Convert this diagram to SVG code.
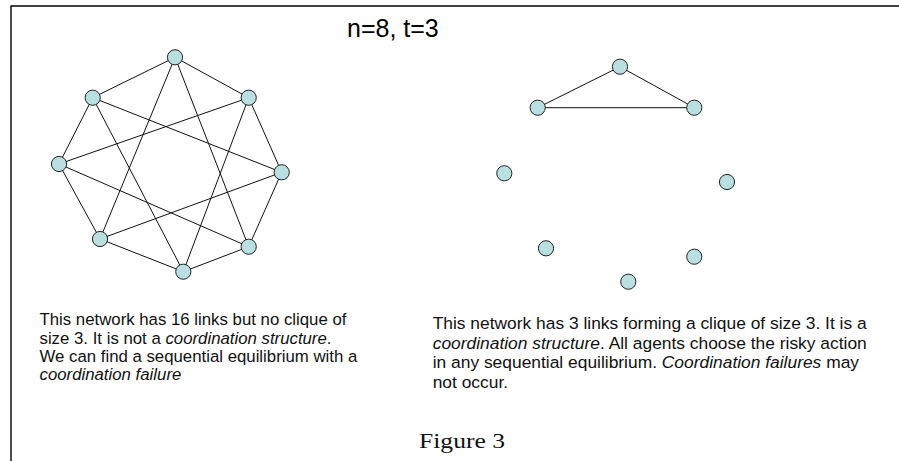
<svg xmlns="http://www.w3.org/2000/svg" width="899" height="461" viewBox="0 0 899 461">
  <style>
    .frame { stroke: #000; stroke-width: 1.4; fill: none; }
    .edge { stroke: #111; stroke-width: 1; fill: none; }
    .node { fill: #b9dfe0; stroke: #222; stroke-width: 1; }
    .title { font-family: "Liberation Sans", Arial, sans-serif; font-size: 25px; fill: #000; }
    .body { font-family: "Liberation Sans", Arial, sans-serif; fill: #111; }
    .cap { font-family: "Liberation Serif", "DejaVu Serif", serif; font-size: 22px; fill: #111; }
  </style>
  <defs>
    <circle id="dot" r="7.6"/>
  </defs>

  <rect x="0" y="0" width="899" height="461" fill="#fff"/>

  <!-- frame -->
  <path class="frame" d="M11,461 V6 H899"/>

  <text class="title" x="347" y="37">n=8, t=3</text>

  <!-- connectors -->
  <g id="connectors">
    <!-- left network: outer cycle -->
    <line class="edge" x1="175" y1="57.3" x2="92.7" y2="97.7"/>
    <line class="edge" x1="175" y1="57.3" x2="248.7" y2="97.7"/>
    <line class="edge" x1="92.7" y1="97.7" x2="59" y2="164"/>
    <line class="edge" x1="248.7" y1="97.7" x2="281.7" y2="172.3"/>
    <line class="edge" x1="59" y1="164" x2="100" y2="239"/>
    <line class="edge" x1="281.7" y1="172.3" x2="248.7" y2="246.7"/>
    <line class="edge" x1="100" y1="239" x2="183.3" y2="271.7"/>
    <line class="edge" x1="248.7" y1="246.7" x2="183.3" y2="271.7"/>
    <!-- left network: chords -->
    <line class="edge" x1="175" y1="57.3" x2="100" y2="239"/>
    <line class="edge" x1="175" y1="57.3" x2="248.7" y2="246.7"/>
    <line class="edge" x1="92.7" y1="97.7" x2="281.7" y2="172.3"/>
    <line class="edge" x1="92.7" y1="97.7" x2="183.3" y2="271.7"/>
    <line class="edge" x1="248.7" y1="97.7" x2="59" y2="164"/>
    <line class="edge" x1="248.7" y1="97.7" x2="183.3" y2="271.7"/>
    <line class="edge" x1="59" y1="164" x2="248.7" y2="246.7"/>
    <line class="edge" x1="281.7" y1="172.3" x2="100" y2="239"/>
    <!-- right network: triangle -->
    <line class="edge" x1="620" y1="66.7" x2="537.7" y2="107.7"/>
    <line class="edge" x1="620" y1="66.7" x2="694.3" y2="107.7"/>
    <line class="edge" x1="537.7" y1="107.7" x2="694.3" y2="107.7"/>
  </g>

  <!-- left network nodes -->
  <g id="a1"><use href="#dot" class="node" x="175" y="57.3"/></g>
  <g id="a2"><use href="#dot" class="node" x="248.7" y="97.7"/></g>
  <g id="a3"><use href="#dot" class="node" x="281.7" y="172.3"/></g>
  <g id="a4"><use href="#dot" class="node" x="248.7" y="246.7"/></g>
  <g id="a5"><use href="#dot" class="node" x="183.3" y="271.7"/></g>
  <g id="a6"><use href="#dot" class="node" x="100" y="239"/></g>
  <g id="a7"><use href="#dot" class="node" x="59" y="164"/></g>
  <g id="a8"><use href="#dot" class="node" x="92.7" y="97.7"/></g>

  <!-- right network nodes -->
  <g id="b1"><use href="#dot" class="node" x="620" y="66.7"/></g>
  <g id="b2"><use href="#dot" class="node" x="694.3" y="107.7"/></g>
  <g id="b3"><use href="#dot" class="node" x="727" y="182"/></g>
  <g id="b4"><use href="#dot" class="node" x="694.3" y="256.7"/></g>
  <g id="b5"><use href="#dot" class="node" x="628.3" y="281.7"/></g>
  <g id="b6"><use href="#dot" class="node" x="546" y="248.3"/></g>
  <g id="b7"><use href="#dot" class="node" x="504.3" y="173.3"/></g>
  <g id="b8"><use href="#dot" class="node" x="537.7" y="107.7"/></g>

  <!-- left caption -->
  <text class="body" font-size="16.8">
    <tspan x="39.5" y="325">This network has 16 links but no clique of</tspan>
    <tspan x="39.5" y="343.5">size 3. It is not a <tspan font-style="italic">coordination structure</tspan>.</tspan>
    <tspan x="39.5" y="362">We can find a sequential equilibrium with a</tspan>
    <tspan x="39.5" y="380" font-style="italic">coordination failure</tspan>
  </text>

  <!-- right caption -->
  <text class="body" font-size="17.4">
    <tspan x="432.7" y="329">This network has 3 links forming a clique of size 3. It is a</tspan>
    <tspan x="432.7" y="348.5"><tspan font-style="italic">coordination structure</tspan>. All agents choose the risky action</tspan>
    <tspan x="432.7" y="368">in any sequential equilibrium. <tspan font-style="italic">Coordination failures</tspan> may</tspan>
    <tspan x="432.7" y="387.5">not occur.</tspan>
  </text>

  <text class="cap" x="419" y="448" textLength="86" lengthAdjust="spacingAndGlyphs">Figure 3</text>
</svg>
